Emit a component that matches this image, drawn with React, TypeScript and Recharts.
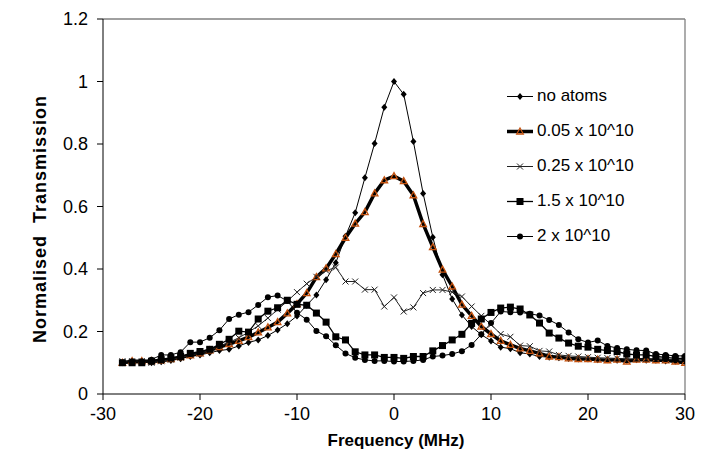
import React from 'react';
import { LineChart, Line, XAxis, YAxis, ReferenceLine } from 'recharts';

const freqs = [
  -28, -27, -26, -25, -24, -23, -22, -21, -20, -19, -18, -17, -16, -15, -14, -13, -12, -11, -10, -9,
  -8, -7, -6, -5, -4, -3, -2, -1, 0, 1, 2, 3, 4, 5, 6, 7, 8, 9, 10, 11,
  12, 13, 14, 15, 16, 17, 18, 19, 20, 21, 22, 23, 24, 25, 26, 27, 28, 29, 30,
];

const noAtoms = [
  0.100, 0.103, 0.103, 0.100, 0.103, 0.107, 0.113, 0.120, 0.125, 0.132, 0.139, 0.143, 0.154, 0.165, 0.173, 0.187, 0.205, 0.225, 0.250, 0.284,
  0.317, 0.366, 0.420, 0.505, 0.580, 0.692, 0.802, 0.918, 1.000, 0.959, 0.808, 0.642, 0.502, 0.382, 0.304, 0.253, 0.216, 0.190, 0.170, 0.150,
  0.145, 0.132, 0.128, 0.120, 0.118, 0.116, 0.114, 0.112, 0.112, 0.110, 0.110, 0.108, 0.108, 0.110, 0.108, 0.108, 0.106, 0.105, 0.104,
];

const atoms005 = [
  0.100, 0.105, 0.105, 0.105, 0.108, 0.112, 0.118, 0.124, 0.130, 0.140, 0.150, 0.160, 0.170, 0.182, 0.197, 0.213, 0.230, 0.258, 0.288, 0.323,
  0.374, 0.402, 0.448, 0.500, 0.545, 0.582, 0.642, 0.684, 0.697, 0.681, 0.636, 0.544, 0.470, 0.398, 0.344, 0.286, 0.250, 0.216, 0.192, 0.170,
  0.157, 0.146, 0.138, 0.130, 0.120, 0.118, 0.114, 0.112, 0.112, 0.110, 0.108, 0.110, 0.104, 0.110, 0.110, 0.108, 0.108, 0.104, 0.100,
];

const atoms025 = [
  0.105, 0.105, 0.105, 0.100, 0.105, 0.110, 0.116, 0.125, 0.130, 0.140, 0.152, 0.165, 0.180, 0.198, 0.218, 0.243, 0.270, 0.297, 0.326, 0.353,
  0.375, 0.395, 0.405, 0.360, 0.360, 0.334, 0.334, 0.280, 0.309, 0.264, 0.277, 0.323, 0.333, 0.333, 0.326, 0.312, 0.280, 0.250, 0.222, 0.192,
  0.183, 0.155, 0.153, 0.138, 0.136, 0.125, 0.122, 0.120, 0.118, 0.116, 0.115, 0.114, 0.113, 0.112, 0.112, 0.112, 0.110, 0.110, 0.110,
];

const atoms15 = [
  0.100, 0.100, 0.100, 0.105, 0.110, 0.115, 0.120, 0.130, 0.136, 0.143, 0.159, 0.175, 0.201, 0.198, 0.240, 0.265, 0.276, 0.300, 0.287, 0.284,
  0.259, 0.230, 0.183, 0.173, 0.135, 0.125, 0.125, 0.117, 0.117, 0.114, 0.120, 0.120, 0.138, 0.155, 0.173, 0.191, 0.226, 0.240, 0.261, 0.275,
  0.278, 0.272, 0.253, 0.227, 0.195, 0.179, 0.163, 0.153, 0.150, 0.143, 0.139, 0.136, 0.128, 0.125, 0.125, 0.120, 0.117, 0.114, 0.114,
];

const atoms2 = [
  0.100, 0.105, 0.105, 0.110, 0.125, 0.125, 0.134, 0.166, 0.166, 0.180, 0.204, 0.240, 0.254, 0.262, 0.285, 0.310, 0.315, 0.298, 0.260, 0.238,
  0.202, 0.185, 0.156, 0.130, 0.116, 0.109, 0.106, 0.106, 0.104, 0.104, 0.106, 0.109, 0.120, 0.123, 0.128, 0.137, 0.157, 0.191, 0.227, 0.264,
  0.262, 0.261, 0.257, 0.251, 0.237, 0.221, 0.197, 0.175, 0.165, 0.171, 0.154, 0.147, 0.143, 0.140, 0.139, 0.128, 0.125, 0.122, 0.122,
];

const xTicks = [-30, -20, -10, 0, 10, 20, 30];
const yTicks = [0, 0.2, 0.4, 0.6, 0.8, 1, 1.2];
const seriesNames = ['no atoms', '0.05 x 10^10', '0.25 x 10^10', '1.5 x 10^10', '2 x 10^10'];
const seriesKeys = ['a', 'b', 'c', 'd', 'e'];

const data = freqs.map((f, i) => ({
  f,
  a: noAtoms[i],
  b: atoms005[i],
  c: atoms025[i],
  d: atoms15[i],
  e: atoms2[i],
}));

const FONT = '"Liberation Sans", Arial, sans-serif';
const ORANGE = '#C4520F';

type MarkFn = (cx: number, cy: number, key?: string) => React.ReactElement;

const diamond: MarkFn = (cx, cy, key) => (
  <polygon key={key} points={`${cx},${cy - 3.5} ${cx + 3},${cy} ${cx},${cy + 3.5} ${cx - 3},${cy}`} fill="#000" />
);
const triangle: MarkFn = (cx, cy, key) => (
  <polygon
    key={key}
    points={`${cx},${cy - 3.5} ${cx + 3.3},${cy + 2.5} ${cx - 3.3},${cy + 2.5}`}
    fill="none"
    stroke={ORANGE}
    strokeWidth={1.3}
  />
);
const cross: MarkFn = (cx, cy, key) => (
  <g key={key} stroke="#222" strokeWidth={1}>
    <line x1={cx - 3} y1={cy - 3} x2={cx + 3} y2={cy + 3} />
    <line x1={cx - 3} y1={cy + 3} x2={cx + 3} y2={cy - 3} />
  </g>
);
const square: MarkFn = (cx, cy, key) => <rect key={key} x={cx - 3.5} y={cy - 3.5} width={7} height={7} fill="#000" />;
const circle: MarkFn = (cx, cy, key) => <circle key={key} cx={cx} cy={cy} r={3} fill="#000" />;

const marks: MarkFn[] = [diamond, triangle, cross, square, circle];
const lineWidths = [1, 3.5, 1, 1.3, 1];
const lineColors = ['#000', '#000', '#222', '#000', '#000'];

const makeDot = (fn: MarkFn, name: string) => (props: any) => {
  const { cx, cy, index } = props;
  if (cx == null || cy == null) return <g key={`${name}-${index}`} />;
  return fn(cx, cy, `${name}-${index}`);
};

const YTitle = () => (
  <text
    x={40}
    y={219}
    transform="rotate(-90 40 219)"
    textAnchor="middle"
    dominantBaseline="central"
    fontFamily={FONT}
    fontSize={18}
    fontWeight="bold"
    letterSpacing={1}
    fill="#000"
    style={{ whiteSpace: 'pre' }}
  >
    {'Normalised  Transmission'}
  </text>
);

const XTitle = () => (
  <text x={396} y={446} textAnchor="middle" fontFamily={FONT} fontSize={17} fontWeight="bold" fill="#000">
    Frequency (MHz)
  </text>
);

export default function App() {
  return (
    <div style={{ position: 'absolute', left: 0, top: 0, width: 708, height: 460, background: '#fff' }}>
      <LineChart
        width={708}
        height={460}
        data={data}
        margin={{ top: 19, right: 23, left: 0, bottom: 0 }}
        style={{ fontFamily: FONT }}
      >
        <XAxis
          type="number"
          dataKey="f"
          domain={[-30, 30]}
          ticks={xTicks}
          allowDataOverflow
          height={66}
          tickSize={6}
          tickMargin={7}
          tick={{ fontSize: 18, fill: '#000', fontFamily: FONT }}
          tickLine={{ stroke: '#000' }}
          axisLine={{ stroke: '#000' }}
          label={<XTitle />}
        />
        <YAxis
          type="number"
          domain={[0, 1.2]}
          ticks={yTicks}
          allowDataOverflow
          width={103}
          tickSize={6}
          tickMargin={9}
          tick={{ fontSize: 18, fill: '#000', fontFamily: FONT }}
          tickLine={{ stroke: '#000' }}
          axisLine={{ stroke: '#000' }}
          tickFormatter={(v: number) => String(v)}
          label={<YTitle />}
        />
        <ReferenceLine y={1.2} stroke="#808080" strokeWidth={1.3} ifOverflow="visible" />
        <ReferenceLine x={30} stroke="#808080" strokeWidth={1.3} ifOverflow="visible" />
        {seriesKeys.map((k, i) => (
          <Line
            key={k}
            type="linear"
            dataKey={k}
            name={seriesNames[i]}
            stroke={lineColors[i]}
            strokeWidth={lineWidths[i]}
            dot={makeDot(marks[i], k)}
            activeDot={false}
            isAnimationActive={false}
          />
        ))}
      </LineChart>
      <div style={{ position: 'absolute', left: 507, top: 78.5, fontFamily: FONT, fontSize: 17, color: '#000' }}>
        {seriesNames.map((n, i) => (
          <div key={n} style={{ height: 35, display: 'flex', alignItems: 'center', whiteSpace: 'nowrap' }}>
            <svg width={30} height={35} style={{ display: 'block' }}>
              <line x1={0} x2={26} y1={17.5} y2={17.5} stroke={lineColors[i]} strokeWidth={lineWidths[i]} />
              {marks[i](13, 17.5)}
            </svg>
            <span>{n}</span>
          </div>
        ))}
      </div>
    </div>
  );
}
